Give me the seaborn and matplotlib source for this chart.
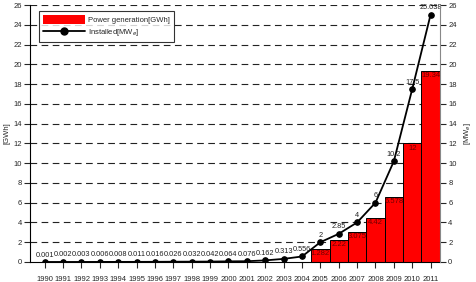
import numpy as np
import pandas as pd
import matplotlib
matplotlib.use('Agg')
import matplotlib.pyplot as plt
import seaborn as sns
from matplotlib.patches import Patch
from matplotlib.lines import Line2D

years = [str(y) for y in range(1990, 2012)]
generation = [0, 0, 0, 0, 0, 0, 0, 0, 0, 0, 0, 0, 0, 0, 0,
              1.282, 2.22, 3.075, 4.42, 6.578, 12, 19.34]
gen_labels = ['1.282', '2.22', '3.075', '4.42', '6.578', '12', '19.34']
installed = [0.001, 0.002, 0.003, 0.006, 0.008, 0.011, 0.016, 0.026, 0.032,
             0.042, 0.064, 0.076, 0.162, 0.313, 0.556, 2, 2.85, 4, 6, 10.2,
             17.5, 25.038]
inst_labels = ['0.001', '0.002', '0.003', '0.006', '0.008', '0.011', '0.016',
               '0.026', '0.032', '0.042', '0.064', '0.076', '0.162', '0.313',
               '0.556', '2', '2.85', '4', '6', '10.2', '17.5', '25.038']

sns.set_style('white')
plt.rcParams['font.family'] = ['Liberation Sans', 'DejaVu Sans']

df = pd.DataFrame({'year': years, 'gen': generation, 'inst': installed})
df['pos'] = np.arange(len(years))

fig = plt.figure(figsize=(4.77, 2.82), dpi=100)
ax = fig.add_axes([0.063, 0.071, 0.859, 0.911])

sns.barplot(data=df, x='year', y='gen', color='#ff0000', saturation=1,
            width=1.0, edgecolor='black', linewidth=0.7, ax=ax, zorder=2)
sns.lineplot(data=df, x='pos', y='inst', color='black', linewidth=1.3,
             marker='o', markersize=4, markeredgecolor='black', ax=ax, zorder=3)

for i, g in enumerate(generation):
    if g > 0:
        ax.text(i, g - 0.12, gen_labels[i - 15], ha='center', va='top',
                fontsize=5.5, color='#700000', zorder=4)
for i, v in enumerate(installed):
    ax.text(i, v + 0.35, inst_labels[i], ha='center', va='bottom',
            fontsize=5.3, color='#222222', zorder=4)

ax.set_xlim(-0.8, 21.5)
ax.set_ylim(0, 26)
ax.set_yticks(range(0, 27, 2))
for y in range(2, 27, 2):
    ax.axhline(y, color='#222222', linestyle=(0, (6, 4)), linewidth=0.8, zorder=1)
ax.set_xlabel('')
ax.set_ylabel('[GWh]', fontsize=5.5, labelpad=2)
ax.tick_params(axis='both', labelsize=5.5, length=4, width=0.8, direction='out',
               bottom=True, left=True, pad=2)
ax.tick_params(axis='x', pad=6)
for s in ['top', 'right']:
    ax.spines[s].set_visible(False)
ax.spines['left'].set_color('black')
ax.spines['bottom'].set_color('black')

ax2 = ax.twinx()
ax2.set_ylim(0, 26)
ax2.set_yticks(range(0, 27, 2))
ax2.set_ylabel('[MW$_e$]', fontsize=5.5, labelpad=4)
ax2.tick_params(axis='y', labelsize=5.5, length=4, width=0.8, direction='out',
                right=True, pad=2)
for s in ['top', 'left', 'bottom']:
    ax2.spines[s].set_visible(False)
ax2.spines['right'].set_color('#888888')

handles = [Patch(facecolor='#ff0000', edgecolor='none'),
           Line2D([0], [0], color='black', linewidth=1.3, marker='o', markersize=5)]
leg = ax.legend(handles, ['Power generation[GWh]', 'Installed[MW$_e$]'],
                loc='upper left', bbox_to_anchor=(0.012, 0.99), fontsize=5.5,
                frameon=True, fancybox=False, edgecolor='black',
                handlelength=5.5, handleheight=1.3, borderpad=0.5,
                labelspacing=0.4, handletextpad=0.5)
leg.get_frame().set_linewidth(0.8)
leg.set_zorder(5)

fig.savefig('out.png', dpi=100)
